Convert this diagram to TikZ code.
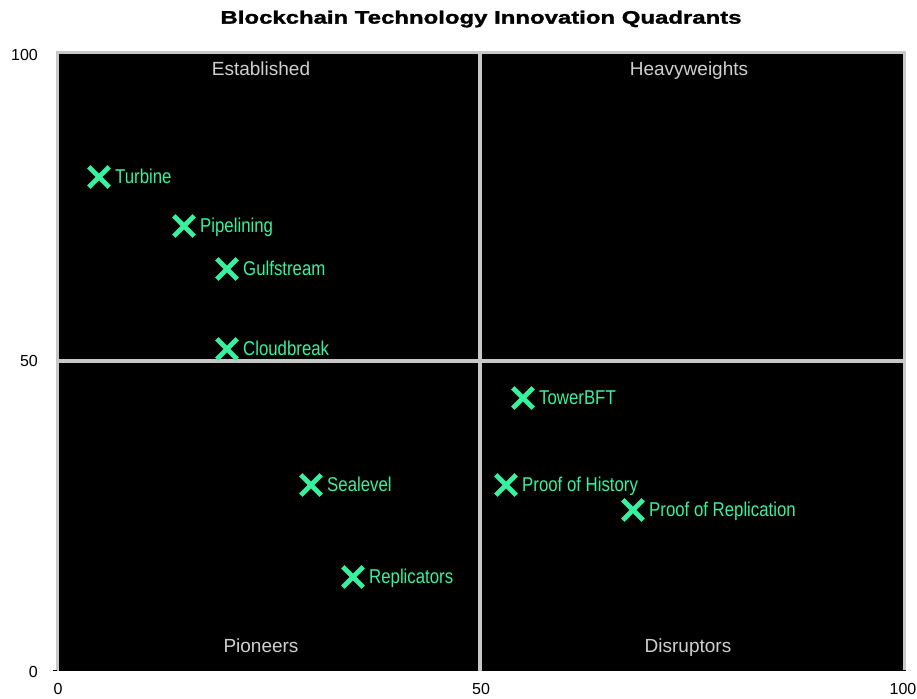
\documentclass[tikz,border=0pt]{standalone}
\usepackage{fontspec}
\setmainfont{Liberation Sans}
\newfontfamily\narrowf[FakeStretch=0.84]{Liberation Sans}
\newfontfamily\titlef[FakeStretch=1.33,FakeBold=1.6]{Liberation Sans Bold}
\usetikzlibrary{shapes.misc}
\definecolor{mint}{HTML}{36F29E}
\definecolor{frame}{HTML}{C8C8C8}
\definecolor{qtext}{HTML}{D0D0D0}
\tikzset{
  xmark/.style={cross out, draw=mint, line width=4.8pt, minimum size=15.5pt, inner sep=0pt},
  lbl/.style={text=mint, anchor=base west, inner sep=0pt, font=\narrowf\fontsize{20}{24}\selectfont},
  quad/.style={text=qtext, anchor=base, inner sep=0pt, font=\fontsize{19}{23}\selectfont},
  axnum/.style={text=black, inner sep=0pt, font=\fontsize{16}{19}\selectfont},
  midline/.style={draw=frame, line width=4pt}
}
\begin{document}
\begin{tikzpicture}[x=1pt,y=-1pt]
\useasboundingbox (0,0) rectangle (917,698);
% frame and plot area
\fill[frame] (56,51) rectangle (906,670.5);
\fill[black] (59,54) rectangle (903,670.5);
\coordinate (top) at (480,54);
\coordinate (bot) at (480,670.5);
\coordinate (lft) at (59,361);
\coordinate (rgt) at (903,361);
\draw[midline] (top) -- (bot);
\draw[midline] (lft) -- (rgt);
% ticks
\draw[black, line width=1pt] (53,670.5) -- (57,670.5);
\draw[black, line width=1pt] (903,670.5) -- (906,670.5);
% title
\node[inner sep=0pt, font=\titlef\fontsize{18}{22}\selectfont] (title) at (481,19) {Blockchain Technology Innovation Quadrants};
% quadrant labels
\node[quad] (q1) at (261,75.7) {Established};
\node[quad] (q2) at (689,75.7) {Heavyweights};
\node[quad] (q3) at (261,652.7) {Pioneers};
\node[quad] (q4) at (688,652.7) {Disruptors};
% axis numbers
\node[axnum, anchor=east] (y100) at (38,55) {100};
\node[axnum, anchor=east] (y50) at (38,361) {50};
\node[axnum, anchor=east] (y0) at (38,672) {0};
\node[axnum] (x0) at (58,689) {0};
\node[axnum] (x50) at (481,689) {50};
\node[axnum] (x100) at (903,689) {100};
% points
\node[xmark] (p1) at (99,177) {};
\node[lbl] (l1) at ([xshift=16pt,yshift=-6pt]p1.center) {Turbine};
\node[xmark] (p2) at (184,226) {};
\node[lbl] (l2) at ([xshift=16pt,yshift=-6pt]p2.center) {Pipelining};
\node[xmark] (p3) at (227,269) {};
\node[lbl] (l3) at ([xshift=16pt,yshift=-6pt]p3.center) {Gulfstream};
\node[xmark] (p4) at (227,349) {};
\node[lbl] (l4) at ([xshift=16pt,yshift=-6pt]p4.center) {Cloudbreak};
\node[xmark] (p5) at (523,398) {};
\node[lbl] (l5) at ([xshift=16pt,yshift=-6pt]p5.center) {TowerBFT};
\node[xmark] (p6) at (311,485) {};
\node[lbl] (l6) at ([xshift=16pt,yshift=-6pt]p6.center) {Sealevel};
\node[xmark] (p7) at (506,485) {};
\node[lbl] (l7) at ([xshift=16pt,yshift=-6pt]p7.center) {Proof of History};
\node[xmark] (p8) at (633,510) {};
\node[lbl] (l8) at ([xshift=16pt,yshift=-6pt]p8.center) {Proof of Replication};
\node[xmark] (p9) at (353,577) {};
\node[lbl] (l9) at ([xshift=16pt,yshift=-6pt]p9.center) {Replicators};
\end{tikzpicture}
\end{document}
